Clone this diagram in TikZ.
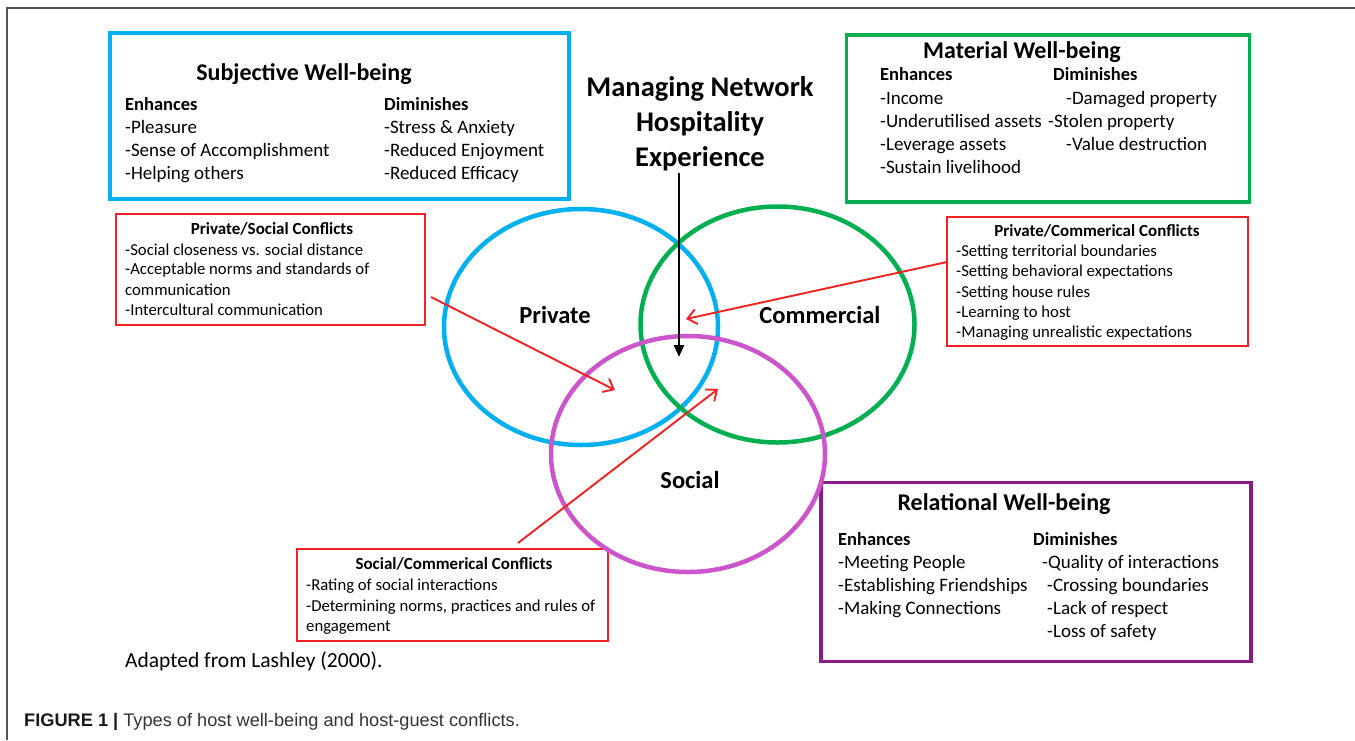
\documentclass[tikz,border=0pt]{standalone}
\usepackage{fontspec}
\setmainfont{Carlito}
\newfontfamily\capfont{Liberation Sans}
\usetikzlibrary{shapes.geometric,arrows.meta}
\definecolor{skyB}{HTML}{00B0F0}
\definecolor{grnB}{HTML}{00B050}
\definecolor{magC}{HTML}{CC55CC}
\definecolor{purB}{HTML}{8A1B86}
\definecolor{redB}{HTML}{F22222}
\definecolor{frameG}{HTML}{555555}
\begin{document}
\begin{tikzpicture}[x=1pt,y=-1pt,
  wbox/.style={draw, line width=3.2pt, inner sep=0pt},
  cbox/.style={draw=redB, line width=1.4pt, inner sep=0pt},
  circ/.style={ellipse, draw, line width=4.5pt, inner sep=0pt, minimum width=274pt, minimum height=236pt},
  itm/.style={anchor=base west, yshift=-6pt, inner sep=0pt, font=\fontsize{19}{22}\selectfont},
  hdr/.style={itm, font=\fontsize{18.5}{22}\selectfont\bfseries},
  citm/.style={anchor=base west, yshift=-5.3pt, inner sep=0pt, font=\fontsize{16.7}{20}\selectfont},
  chdr/.style={anchor=base, yshift=-5.5pt, inner sep=0pt, font=\fontsize{17}{20}\selectfont\bfseries},
  ttl/.style={anchor=base, yshift=-7.7pt, inner sep=0pt, font=\fontsize{24}{28}\selectfont\bfseries},
  sect/.style={anchor=base, yshift=-7.9pt, inner sep=0pt, font=\fontsize{24.5}{29}\selectfont\bfseries},
  redarrow/.style={draw=redB, line width=1.9pt, -{Straight Barb[length=9pt,width=15pt,line width=1.9pt]}},
  blackarrow/.style={draw=black, line width=2.6pt, -{Triangle[length=12pt,width=10pt]}}
]
\useasboundingbox (0,0) rectangle (1355,740);
\fill[white] (0,0) rectangle (1355,740);
% outer frame
\draw[frameG, line width=1.3pt] (7,740) -- (7,8) -- (1355,8);

% ---------- Subjective well-being ----------
\node[wbox, draw=skyB, minimum width=459pt, minimum height=166pt] (subj) at (339.5,116) {};
\node[ttl] (subjT) at (304,73) {Subjective Well-being};
\node[hdr] (subjE) at (125,104) {Enhances};
\node[hdr] (subjD) at (384,104) {Diminishes};
\node[itm] (s1) at (125,127) {-Pleasure};
\node[itm] (s2) at (125,150) {-Sense of Accomplishment};
\node[itm] (s3) at (125,173) {-Helping others};
\node[itm] (s4) at (384,127) {-Stress \& Anxiety};
\node[itm] (s5) at (384,150) {-Reduced Enjoyment};
\node[itm] (s6) at (384,173) {-Reduced Efficacy};

% ---------- Material well-being ----------
\node[wbox, draw=grnB, minimum width=403pt, minimum height=167pt] (mat) at (1048,118.5) {};
\node[ttl] (matT) at (1022,51) {Material Well-being};
\node[hdr] (matE) at (880,74) {Enhances};
\node[hdr] (matD) at (1053,74) {Diminishes};
\node[itm] (m1) at (880,98) {-Income};
\node[itm] (m2) at (880,121) {-Underutilised assets};
\node[itm] (m3) at (880,144) {-Leverage assets};
\node[itm] (m4) at (880,167) {-Sustain livelihood};
\node[itm] (m5) at (1066,98) {-Damaged property};
\node[itm] (m6) at (1048,121) {-Stolen property};
\node[itm] (m7) at (1066,144) {-Value destruction};

% ---------- Relational well-being ----------
\node[wbox, draw=purB, minimum width=430pt, minimum height=179pt] (rel) at (1036,572) {};
\node[ttl] (relT) at (1004,503) {Relational Well-being};
\node[hdr] (relE) at (838,539) {Enhances};
\node[hdr] (relD) at (1033,539) {Diminishes};
\node[itm] (r1) at (838,562) {-Meeting People};
\node[itm] (r2) at (838,585) {-Establishing Friendships};
\node[itm] (r3) at (838,608) {-Making Connections};
\node[itm] (r4) at (1042,562) {-Quality of interactions};
\node[itm] (r5) at (1047,585) {-Crossing boundaries};
\node[itm] (r6) at (1047,608) {-Lack of respect};
\node[itm] (r7) at (1047,631) {-Loss of safety};

% ---------- Conflict boxes ----------
\node[cbox, minimum width=309pt, minimum height=111pt] (ps) at (270.5,269.5) {};
\node[chdr] (psT) at (272,229) {Private/Social Conflicts};
\node[citm] (p1) at (125,250) {-Social closeness vs. social distance};
\node[citm] (p2) at (125,269) {-Acceptable norms and standards of};
\node[citm] (p3) at (125,290) {communication};
\node[citm] (p4) at (125,310) {-Intercultural communication};

\node[cbox, minimum width=301pt, minimum height=129pt] (pc) at (1097.5,281.5) {};
\node[chdr] (pcT) at (1097,231) {Private/Commerical Conflicts};
\node[citm] (c1) at (956,251) {-Setting territorial boundaries};
\node[citm] (c2) at (956,271) {-Setting behavioral expectations};
\node[citm] (c3) at (956,292) {-Setting house rules};
\node[citm] (c4) at (956,312) {-Learning to host};
\node[citm] (c5) at (956,332) {-Managing unrealistic expectations};

\node[cbox, minimum width=311pt, minimum height=92pt] (sc) at (452.5,595) {};
\node[chdr] (scT) at (454,564) {Social/Commerical Conflicts};
\node[citm] (k1) at (306,585) {-Rating of social interactions};
\node[citm] (k2) at (306,606) {-Determining norms, practices and rules of};
\node[citm] (k3) at (306,626) {engagement};

% ---------- Centre title ----------
\node[anchor=center, inner sep=0pt, align=center, font=\fontsize{28.5}{35}\selectfont\bfseries] (mnhe) at (700,124) {Managing Network\\Hospitality\\Experience};

% ---------- Venn ellipses ----------
\node[circ, draw=skyB] (priv) at (581,327) {};
\node[circ, draw=grnB] (comm) at (777.5,324.5) {};
\node[circ, draw=magC] (soc) at (688,454) {};
\node[sect] (privL) at (555,316) {Private};
\node[sect] (commL) at (820,316) {Commercial};
\node[sect] (socL) at (690,481) {Social};

% ---------- Arrows ----------
\coordinate (mnheS) at (679,173);
\coordinate (mnheE) at (679,357);
\draw[blackarrow] (mnheS) -- (mnheE);

\coordinate (psS) at (431,297);
\coordinate (psE) at (615,390);
\draw[redarrow] (psS) -- (psE);

\coordinate (pcS) at (947,262);
\coordinate (pcE) at (686,319);
\draw[redarrow] (pcS) -- (pcE);

\coordinate (scS) at (518,543);
\coordinate (scE) at (718,389);
\draw[redarrow] (scS) -- (scE);

% ---------- Notes ----------
\node[anchor=base west, yshift=-7pt, inner sep=0pt, font=\fontsize{21.5}{25}\selectfont] (src) at (125,660) {Adapted from Lashley (2000).};
\node[anchor=base west, yshift=-6.3pt, inner sep=0pt, font=\capfont\fontsize{18.2}{21}\selectfont, text=black!80] (cap) at (24,720) {\textbf{\color{black!90}FIGURE 1 |} Types of host well-being and host-guest conflicts.};
\end{tikzpicture}
\end{document}
